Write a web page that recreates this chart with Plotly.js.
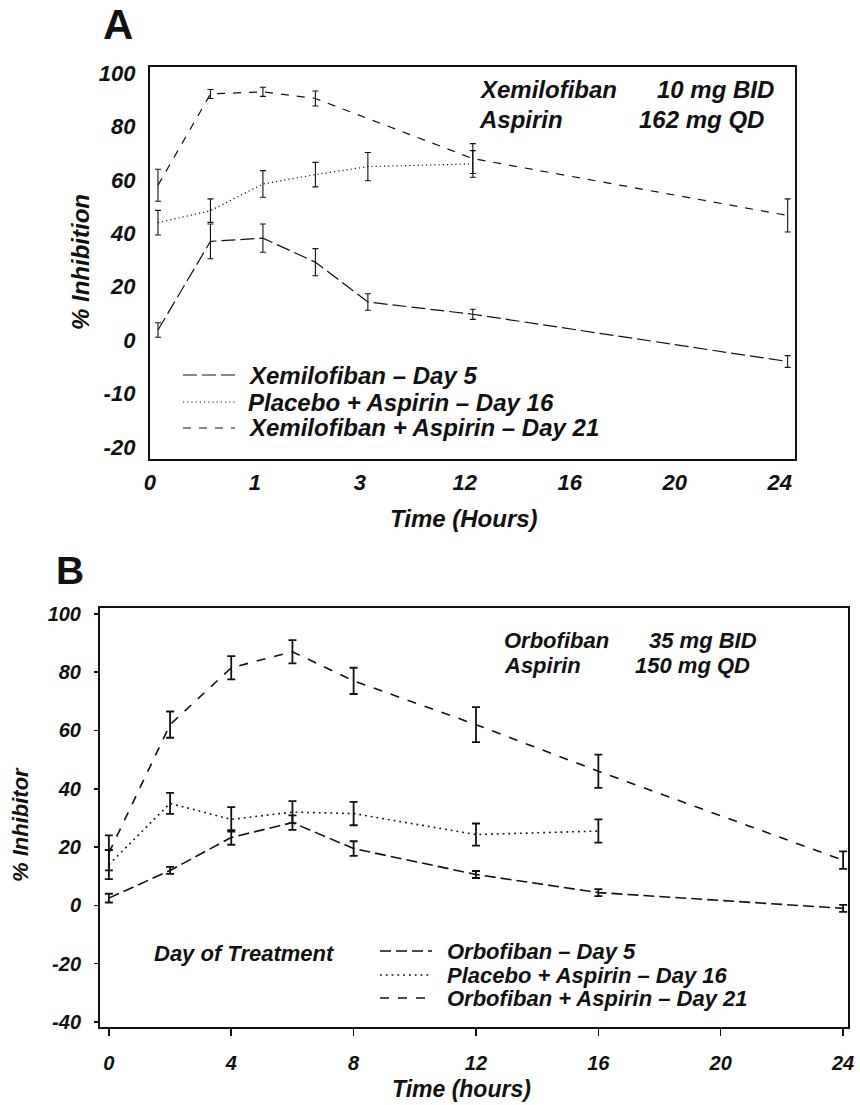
<!DOCTYPE html>
<html>
<head>
<meta charset="utf-8">
<script src="https://cdn.plot.ly/plotly-3.0.1.min.js"></script>
<style>html,body{margin:0;padding:0;background:#fff;}#chart{width:860px;height:1105px;}</style>
</head>
<body>
<div id="chart"></div>
<script>
// ---------- Panel A data ----------
const tickHoursA = [0, 1, 3, 12, 16, 20, 24];
const tickLabelsA_x = ['0', '1', '3', '12', '16', '20', '24'];
const tickValuesA_y = [100, 80, 60, 40, 20, 0, -10, -20];
const hoursA_day5 = [0, 0.5, 1, 2, 3, 12, 24];
const xemiDay5 = [3.8, 37, 38.2, 29.2, 14.3, 9.7, -4];
const xemiDay5Err = [2.7, 6.5, 5.3, 5.1, 3.1, 1.9, 1.1];
const hoursA_day16 = [0, 0.5, 1, 2, 3, 12];
const placeboA = [44, 48.5, 58.5, 62, 65, 66];
const placeboAErr = [4.6, 4.4, 5, 4.6, 5.3, 5];
const hoursA_day21 = [0, 0.5, 1, 2, 12, 24];
const xemiAsp = [58, 92.2, 93, 90.5, 68, 46.7];
const xemiAspErr = [6, 1.7, 1.7, 2.8, 5.6, 6.2];
const legendA = ['Xemilofiban – Day 5', 'Placebo + Aspirin – Day 16', 'Xemilofiban + Aspirin – Day 21'];

// ---------- Panel B data ----------
const tickHoursB = [0, 4, 8, 12, 16, 20, 24];
const tickValuesB_y = [100, 80, 60, 40, 20, 0, -20, -40];
const hoursB_day5 = [0, 2, 4, 6, 8, 12, 16, 24];
const orboDay5 = [2.5, 12, 23.3, 28.4, 19.5, 10.6, 4.4, -1];
const orboDay5Err = [1.5, 1.2, 2.5, 2.5, 2.5, 1.2, 1.2, 1.2];
const hoursB_day16 = [0, 2, 4, 6, 8, 12, 16];
const placeboB = [14, 35, 29.5, 32, 31.5, 24.3, 25.5];
const placeboBErr = [5, 3.6, 4.2, 3.8, 4, 3.8, 4];
const hoursB_day21 = [0, 2, 4, 6, 8, 12, 16, 24];
const orboAsp = [18, 62, 81.5, 87, 77, 62, 46, 15.5];
const orboAspErr = [6, 4.5, 4, 4, 4.5, 6, 5.7, 3];
const legendB = ['Orbofiban – Day 5', 'Placebo + Aspirin – Day 16', 'Orbofiban + Aspirin – Day 21'];

// ---------- helpers ----------
const W = 860, H = 1105;
const px = x => x / W;
const py = y => 1 - y / H;
const FAM = 'Liberation Sans, Arial, Helvetica, sans-serif';
const font = (size, italic) => ({family: FAM, size: size, color: '#111', weight: 700, style: italic === false ? 'normal' : 'italic'});

// Panel A uses a broken time axis: labelled hours are evenly spaced
function hourPosA(h) {
  for (let i = 0; i < tickHoursA.length - 1; i++) {
    const a = tickHoursA[i], b = tickHoursA[i + 1];
    if (h <= b) return i + (h - a) / (b - a);
  }
  return tickHoursA.length - 1;
}
// Panel A y axis: below zero each 10 units take the space of 20
const yPosA = v => (v >= 0 ? v : 2 * v);

function seriesA(hours, vals, errs, dash) {
  return {
    type: 'scatter', mode: 'lines', xaxis: 'x', yaxis: 'y',
    x: hours.map(hourPosA), y: vals.map(yPosA),
    line: {color: '#111', width: 1.2, dash: dash},
    error_y: {type: 'data', symmetric: false,
      array: vals.map((v, i) => yPosA(v + errs[i]) - yPosA(v)),
      arrayminus: vals.map((v, i) => yPosA(v) - yPosA(v - errs[i])),
      color: '#111', thickness: 1.1, width: 3},
    hoverinfo: 'skip', showlegend: false
  };
}
function seriesB(hours, vals, errs, dash, w) {
  return {
    type: 'scatter', mode: 'lines', xaxis: 'x2', yaxis: 'y2',
    x: hours, y: vals,
    line: {color: '#111', width: w, dash: dash},
    error_y: {type: 'data', array: errs, color: '#111', thickness: 1.8, width: 4},
    hoverinfo: 'skip', showlegend: false
  };
}

const dashA = ['14px,5px', '1.2px,3px', '8px,8px'];
const dashB = ['11px,5px', '1.8px,4px', '9px,9px'];

const traces = [
  seriesA(hoursA_day5, xemiDay5, xemiDay5Err, dashA[0]),
  seriesA(hoursA_day16, placeboA, placeboAErr, dashA[1]),
  seriesA(hoursA_day21, xemiAsp, xemiAspErr, dashA[2]),
  seriesB(hoursB_day5, orboDay5, orboDay5Err, dashB[0], 1.6),
  seriesB(hoursB_day16, placeboB, placeboBErr, dashB[1], 1.6),
  seriesB(hoursB_day21, orboAsp, orboAspErr, dashB[2], 1.6)
];

const annotations = [];
const shapes = [];
function txt(text, x, y, size, xanchor, italic) {
  annotations.push({text: text, xref: 'paper', yref: 'paper', x: px(x), y: py(y),
    xanchor: xanchor || 'left', yanchor: 'middle', showarrow: false, font: font(size, italic)});
}
function vtxt(text, x, y, size) {
  annotations.push({text: text, xref: 'paper', yref: 'paper', x: px(x), y: py(y),
    xanchor: 'center', yanchor: 'middle', textangle: -90, showarrow: false, font: font(size)});
}
function sample(x0, x1, y, dash, w) {
  shapes.push({type: 'line', xref: 'paper', yref: 'paper', x0: px(x0), x1: px(x1), y0: py(y), y1: py(y),
    line: {color: '#111', width: w, dash: dash}});
}

// Panel letters
txt('A', 101, 24, 42, 'left', false);
txt('B', 54, 570, 39, 'left', false);

// Panel A texts
txt('Xemilofiban', 477, 89, 24);
txt('10 mg BID', 655, 89, 24);
txt('Aspirin', 477, 119, 24);
txt('162 mg QD', 637, 119, 24);
[375, 402, 428].forEach((y, i) => {
  sample(183, 235, y, dashA[i], 1.2);
  txt(legendA[i], 246, y, 24);
});
vtxt('% Inhibition', 80, 262, 24);
txt('Time (Hours)', 464, 518, 24, 'center');

// Panel B texts
txt('Orbofiban', 502, 640, 22);
txt('35 mg BID', 647, 640, 22);
txt('Aspirin', 502, 665, 22);
txt('150 mg QD', 633, 665, 22);
txt('Day of Treatment', 152, 953, 22);
[951, 975, 998].forEach((y, i) => {
  sample(380, 432, y, dashB[i], 1.6);
  txt(legendB[i], 445, y, 22);
});
vtxt('% Inhibitor', 20, 825, 22);
txt('Time (hours)', 461, 1089, 23, 'center');

const axisCommon = {showline: true, mirror: true, linecolor: '#111', zeroline: false, showgrid: false,
  fixedrange: true};

const layout = {
  width: W, height: H,
  margin: {l: 0, r: 0, t: 0, b: 0},
  paper_bgcolor: '#fff', plot_bgcolor: '#fff',
  showlegend: false,
  xaxis: Object.assign({}, axisCommon, {
    domain: [px(150), px(795)], anchor: 'y', range: [-0.076, 6.07],
    tickmode: 'array', tickvals: tickHoursA.map(hourPosA), ticktext: tickLabelsA_x,
    ticks: '', linewidth: 2.2, tickfont: font(22), ticklabelshift: -8, ticklabelstandoff: 2
  }),
  yaxis: Object.assign({}, axisCommon, {
    domain: [py(459), py(67)], anchor: 'x', range: [-44.5, 102.3],
    tickmode: 'array', tickvals: tickValuesA_y.map(yPosA), ticktext: tickValuesA_y.map(String),
    ticks: '', linewidth: 2.2, tickfont: font(22), ticklabelstandoff: 8
  }),
  xaxis2: Object.assign({}, axisCommon, {
    domain: [px(100), px(848)], anchor: 'y2', range: [-0.29, 24.16],
    tickmode: 'array', tickvals: tickHoursB, ticktext: tickHoursB.map(String),
    ticks: 'outside', ticklen: 7, tickwidth: 1.5, tickcolor: '#111',
    linewidth: 2.4, tickfont: font(20), ticklabelstandoff: 10
  }),
  yaxis2: Object.assign({}, axisCommon, {
    domain: [py(1027), py(608)], anchor: 'x2', range: [-41.7, 102],
    tickmode: 'array', tickvals: tickValuesB_y, ticktext: tickValuesB_y.map(String),
    ticks: 'outside', ticklen: 4, tickwidth: 1.5, tickcolor: '#111',
    linewidth: 2, tickfont: font(20), ticklabelstandoff: 9
  }),
  annotations: annotations,
  shapes: shapes
};

Plotly.newPlot('chart', traces, layout, {staticPlot: true, displayModeBar: false});
</script>
</body>
</html>
